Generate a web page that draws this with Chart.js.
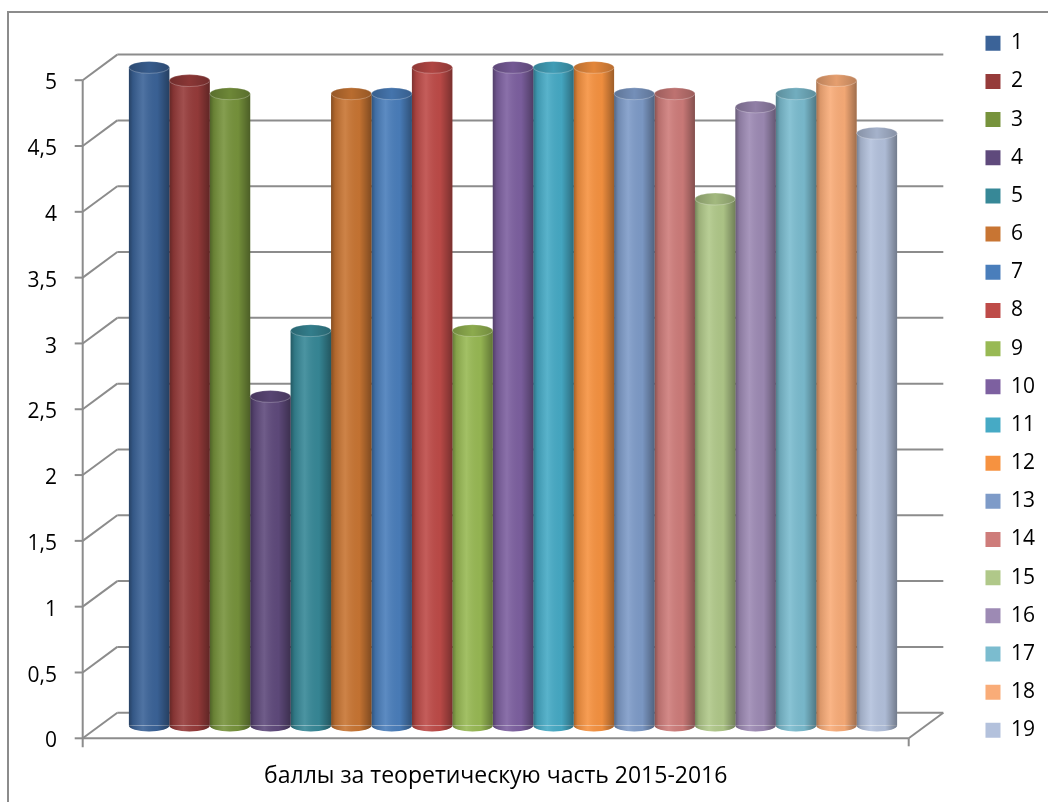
<!DOCTYPE html>
<html><head><meta charset="utf-8">
<script src="https://cdn.jsdelivr.net/npm/chart.js@4.4.0/dist/chart.umd.min.js"></script>
<style>
html,body{margin:0;padding:0;background:#fff;}
#wrap{position:relative;width:1048px;height:802px;overflow:hidden;}
#frame{position:absolute;left:7px;top:11px;width:1100px;height:900px;border:2px solid #8c8c8c;box-sizing:border-box;}
canvas{position:absolute;left:0;top:0;}
</style></head><body>
<div id="wrap"><div id="frame"></div><canvas id="c" width="1048" height="802"></canvas></div>
<script>
const categories = ['баллы за теоретическую часть 2015-2016'];
const seriesNames = ['1','2','3','4','5','6','7','8','9','10','11','12','13','14','15','16','17','18','19'];
const seriesValues = [5, 4.9, 4.8, 2.5, 3, 4.8, 4.8, 5, 3, 5, 5, 5, 4.8, 4.8, 4, 4.7, 4.8, 4.9, 4.5];
const seriesColors = ['#3B6398','#963B3A','#77933C','#5F4A7C','#378897','#C87533',
                      '#4A7EBB','#BE4B48','#98B954','#7D60A0','#46AAC5','#F69240',
                      '#7E9BC8','#CE7C7A','#B0C889','#9D8AB4','#7BBCCF','#F9AC78','#B3C1DC'];
const yTickValues = [0, 0.5, 1, 1.5, 2, 2.5, 3, 3.5, 4, 4.5, 5];

const DX = 17.3, DY = 12.8, RY = 6;
const FONT = "'Open Sans'";
const FSIZE = 21;

function line(ctx, x1, y1, x2, y2){ ctx.beginPath(); ctx.moveTo(x1,y1); ctx.lineTo(x2,y2); ctx.stroke(); }

const framePlugin = {
  id: 'frame3d',
  beforeDatasetsDraw(chart){
    const {ctx, chartArea:{left, right}, scales:{y}} = chart;
    ctx.save();
    ctx.strokeStyle = '#8c8c8c'; ctx.lineWidth = 2;
    yTickValues.forEach(v => {
      const ym = y.getPixelForValue(v), yb = ym - DY, yf = ym + DY;
      line(ctx, left + DX, yb, right + DX, yb);
      line(ctx, left - DX, yf, left + DX, yb);
      line(ctx, left - DX - 8, yf, left - DX, yf);
    });
    const f0 = y.getPixelForValue(yTickValues[0]) + DY;
    const fTop = y.getPixelForValue(yTickValues[yTickValues.length-1]) + DY;
    line(ctx, left - DX, fTop, left - DX, f0 + 9);
    line(ctx, left - DX, f0, right - DX, f0);
    line(ctx, right - DX, f0, right + DX, f0 - 2*DY);
    line(ctx, right - DX, f0, right - DX, f0 + 8);
    ctx.restore();
  }
};

const cylinderPlugin = {
  id: 'cyl',
  afterDatasetsDraw(chart){
    const ctx = chart.ctx;
    chart.data.datasets.forEach((ds, i) => {
      const meta = chart.getDatasetMeta(i);
      meta.data.forEach(el => {
        const {x, y, base, width} = el.getProps(['x','y','base','width'], true);
        const l = x - width/2, r = x + width/2, rx = width/2;
        const g = ctx.createLinearGradient(l, 0, r, 0);
        g.addColorStop(0, 'rgba(0,0,0,0.34)');
        g.addColorStop(0.1, 'rgba(0,0,0,0.12)');
        g.addColorStop(0.35, 'rgba(255,255,255,0.10)');
        g.addColorStop(0.7, 'rgba(0,0,0,0.03)');
        g.addColorStop(1, 'rgba(0,0,0,0.36)');
        ctx.save();
        ctx.beginPath();
        ctx.ellipse(x, base, rx, RY, 0, 0, Math.PI);
        ctx.closePath();
        ctx.fillStyle = ds.backgroundColor; ctx.fill();
        ctx.beginPath();
        ctx.moveTo(l, y); ctx.lineTo(r, y); ctx.lineTo(r, base);
        ctx.ellipse(x, base, rx, RY, 0, 0, Math.PI);
        ctx.closePath();
        ctx.fillStyle = g; ctx.fill();
        ctx.beginPath();
        ctx.ellipse(x, y, rx, RY, 0, 0, Math.PI*2);
        ctx.fillStyle = ds.backgroundColor; ctx.fill();
        const g2 = ctx.createLinearGradient(l, 0, r, 0);
        g2.addColorStop(0, 'rgba(0,0,0,0.25)');
        g2.addColorStop(0.5, 'rgba(0,0,0,0.08)');
        g2.addColorStop(1, 'rgba(0,0,0,0.25)');
        ctx.fillStyle = g2; ctx.fill();
        ctx.strokeStyle = 'rgba(255,255,255,0.25)'; ctx.lineWidth = 1; ctx.stroke();
        ctx.restore();
      });
    });
  }
};

const datasets = seriesNames.map((name, i) => ({
  label: name,
  data: [seriesValues[i]],
  backgroundColor: seriesColors[i],
  borderWidth: 0,
  categoryPercentage: 0.93,
  barPercentage: 1.0
}));

new Chart(document.getElementById('c'), {
  type: 'bar',
  data: { labels: categories, datasets },
  plugins: [framePlugin, cylinderPlugin],
  options: {
    responsive: false,
    animation: false,
    events: [],
    layout: { padding: { left: 0, top: 0, right: 3, bottom: 0 } },
    scales: {
      x: {
        grid: { display: false, drawTicks: false },
        border: { display: false },
        afterFit: s => { s.height = 76.5; s.paddingLeft = 0; s.paddingRight = 0; },
        ticks: { padding: 37, labelOffset: -DX, maxRotation: 0, color: '#000', font: { family: FONT, size: 23 } }
      },
      y: {
        min: 0, max: 5.512,
        afterBuildTicks: s => { s.ticks = yTickValues.map(v => ({ value: v })); },
        afterFit: s => { s.width = 100; s.paddingTop = 0; s.paddingBottom = 0; },
        grid: { display: false, drawTicks: false },
        border: { display: false },
        ticks: { padding: 43, labelOffset: 16, color: '#000', font: { family: FONT, size: FSIZE },
                 callback: v => String(v).replace('.', ',') }
      },
      yR: {
        type: 'linear', position: 'right', display: true,
        grid: { display: false, drawTicks: false },
        border: { display: false },
        ticks: { display: false },
        afterFit: s => { s.width = 42.3; s.paddingTop = 0; s.paddingBottom = 0; }
      }
    },
    plugins: {
      tooltip: { enabled: false },
      legend: {
        position: 'right', align: 'start',
        title: { display: true, text: '', font: { size: 10 }, padding: { top: 1.8, bottom: 1.8 } },
        labels: { boxWidth: 15, boxHeight: 15, padding: 17.17, color: '#000', font: { family: FONT, size: FSIZE } }
      }
    }
  }
});
</script>
</body></html>
